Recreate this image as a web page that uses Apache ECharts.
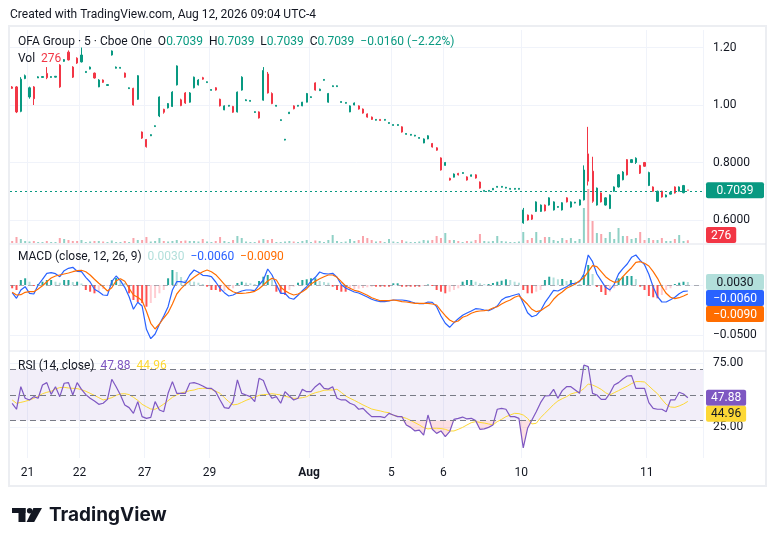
<!DOCTYPE html>
<html lang="en">
<head>
<meta charset="UTF-8">
<title>OFA Group 5m</title>
<style>
html, body { margin: 0; padding: 0; background: #fff; }
#chart { width: 776px; height: 546px; }
</style>
</head>
<body>
<div id="chart"></div>
<script src="https://cdn.jsdelivr.net/npm/echarts@6.0.0/dist/echarts.min.js"></script>
<script>
// day labels on the time axis (slot index where the day starts)
var tickIdx = [4, 16, 31, 46, 69, 88, 100, 118, 147];
var tickText = ['21', '22', '27', '29', 'Aug', '5', '6', '10', '11'];
var slotCount = 160;

// 5 min bars: [open, close, low, high]
var candles = [
  [1.063,1.058,1.056,1.066],[1.063,0.976,0.972,1.066],[0.978,1.090,0.975,1.097],[1.092,1.102,1.090,1.106],[1.028,1.060,1.022,1.064],
  [1.063,1.022,1.000,1.066],[1.094,1.098,1.094,1.100],[1.096,1.099,1.095,1.100],[1.110,1.095,1.090,1.132],[1.096,1.099,1.095,1.100],
  [1.097,1.100,1.096,1.101],[1.139,1.063,1.060,1.142],[1.152,1.158,1.150,1.160],[1.184,1.157,1.155,1.190],[1.132,1.097,1.094,1.135],
  [1.163,1.146,1.143,1.166],[1.150,1.174,1.148,1.200],[1.113,1.117,1.112,1.118],[1.125,1.132,1.124,1.134],[1.111,1.094,1.092,1.113],
  [1.063,1.087,1.062,1.090],[1.087,1.079,1.077,1.089],[1.068,1.071,1.067,1.072],[1.174,1.188,1.172,1.190],[1.128,1.132,1.127,1.134],
  [1.128,1.131,1.127,1.132],[1.111,1.097,1.095,1.113],[1.057,1.060,1.056,1.061],[1.058,1.000,0.998,1.060],[1.020,1.102,1.018,1.104],
  [0.906,0.885,0.882,0.908],[0.880,0.855,0.852,0.882],[0.893,0.897,0.892,0.898],[0.925,0.928,0.924,0.929],[0.962,1.028,0.958,1.030],
  [0.985,0.975,0.970,0.987],[0.990,1.005,0.988,1.007],[0.995,1.045,0.993,1.048],[1.070,1.136,1.068,1.138],[1.018,0.998,0.996,1.022],
  [1.042,1.007,1.004,1.045],[1.010,1.042,1.008,1.045],[1.060,1.097,1.058,1.099],[1.070,1.087,1.068,1.090],[1.095,1.090,1.088,1.098],
  [1.078,1.081,1.077,1.082],[1.051,1.054,1.050,1.055],[1.060,1.052,1.050,1.062],[1.020,0.997,0.995,1.022],[0.983,0.997,0.982,0.999],
  [0.996,0.999,0.995,1.000],[0.995,0.975,0.973,0.997],[0.976,1.045,0.974,1.047],[1.052,1.097,1.050,1.100],[1.015,1.018,1.014,1.020],
  [1.013,1.016,1.012,1.017],[0.974,0.977,0.973,0.978],[0.976,0.955,0.953,0.978],[1.017,1.120,1.015,1.132],[1.108,1.042,1.040,1.115],
  [1.040,1.005,1.003,1.044],[0.996,0.999,0.995,1.000],[0.946,0.949,0.945,0.950],[0.878,0.881,0.877,0.882],[0.970,0.975,0.969,0.976],
  [0.997,0.987,0.985,0.999],[0.996,0.999,0.995,1.000],[0.997,1.010,0.996,1.011],[1.010,1.040,1.009,1.042],[1.026,1.029,1.025,1.030],
  [1.077,1.052,1.050,1.079],[1.050,1.055,1.049,1.057],[1.086,1.089,1.085,1.090],[1.010,1.040,1.008,1.042],[1.064,1.067,1.063,1.068],
  [1.064,1.067,1.063,1.068],[1.009,1.012,1.008,1.013],[1.006,1.009,1.005,1.010],[0.976,0.997,0.975,0.999],[1.000,1.007,0.999,1.009],
  [0.997,0.986,0.984,0.999],[0.986,0.972,0.970,0.988],[0.969,0.958,0.956,0.971],[0.958,0.950,0.948,0.960],[0.947,0.950,0.946,0.951],
  [0.950,0.946,0.945,0.951],[0.947,0.950,0.946,0.951],[0.936,0.939,0.935,0.940],[0.929,0.932,0.928,0.933],[0.929,0.932,0.928,0.933],
  [0.924,0.906,0.904,0.926],[0.898,0.901,0.897,0.902],[0.895,0.898,0.894,0.899],[0.892,0.895,0.891,0.896],[0.884,0.887,0.883,0.888],
  [0.868,0.882,0.867,0.884],[0.882,0.893,0.881,0.895],[0.866,0.854,0.852,0.868],[0.851,0.843,0.841,0.853],[0.816,0.774,0.772,0.818],
  [0.790,0.800,0.789,0.802],[0.745,0.739,0.737,0.747],[0.749,0.760,0.748,0.762],[0.762,0.757,0.755,0.764],[0.762,0.765,0.761,0.766],
  [0.750,0.739,0.737,0.752],[0.752,0.757,0.751,0.758],[0.757,0.746,0.744,0.759],[0.732,0.711,0.709,0.734],[0.700,0.703,0.699,0.704],
  [0.700,0.703,0.699,0.704],[0.705,0.710,0.704,0.711],[0.714,0.717,0.713,0.718],[0.714,0.717,0.713,0.718],[0.711,0.714,0.710,0.715],
  [0.707,0.710,0.706,0.711],[0.707,0.710,0.706,0.711],[0.707,0.710,0.706,0.711],[0.590,0.635,0.587,0.642],[0.617,0.600,0.598,0.619],
  [0.617,0.603,0.600,0.619],[0.630,0.663,0.628,0.665],[0.630,0.652,0.628,0.654],[0.652,0.632,0.630,0.654],[0.652,0.677,0.650,0.679],
  [0.635,0.663,0.633,0.665],[0.644,0.647,0.643,0.648],[0.635,0.660,0.633,0.662],[0.677,0.663,0.661,0.679],[0.645,0.663,0.643,0.665],
  [0.659,0.662,0.658,0.663],[0.652,0.670,0.650,0.672],[0.670,0.774,0.668,0.790],[0.830,0.735,0.720,0.924],[0.770,0.665,0.660,0.820],
  [0.652,0.711,0.650,0.713],[0.694,0.663,0.661,0.696],[0.652,0.677,0.650,0.679],[0.640,0.687,0.638,0.689],[0.700,0.715,0.698,0.717],
  [0.715,0.757,0.713,0.760],[0.740,0.767,0.738,0.770],[0.810,0.757,0.755,0.812],[0.800,0.810,0.798,0.812],[0.800,0.815,0.795,0.818],
  [0.790,0.763,0.760,0.792],[0.800,0.787,0.785,0.802],[0.720,0.765,0.718,0.768],[0.715,0.700,0.698,0.717],[0.665,0.700,0.663,0.702],
  [0.700,0.680,0.678,0.702],[0.680,0.687,0.679,0.689],[0.690,0.696,0.689,0.698],[0.715,0.694,0.692,0.717],[0.700,0.715,0.699,0.717],
  [0.695,0.7199,0.693,0.722],[0.7039,0.7039,0.7039,0.7039]
];

var volumes = [
  200,600,400,200,150,200,100,100,200,100,
  100,500,400,300,200,200,300,100,150,200,
  200,150,100,250,100,100,200,100,500,300,
  300,600,150,200,500,200,150,200,300,200,
  250,200,200,150,400,150,100,200,600,200,
  100,300,700,500,150,100,100,250,400,300,
  400,100,100,150,200,150,100,200,300,100,
  250,200,100,300,800,200,100,150,400,200,
  300,700,500,300,150,200,100,400,150,100,
  300,150,100,100,150,300,250,300,700,500,
  1000,300,300,200,100,200,150,300,900,200,
  150,200,700,200,150,100,100,150,1100,300,
  500,1100,300,600,600,300,200,500,300,500,
  200,400,3500,5400,2200,1000,900,500,1100,400,
  1500,700,700,400,500,1100,300,500,300,300,
  500,200,200,400,800,200,276
];

// MACD (close, 12, 26, 9)
var macdLine = [
  -0.0077,-0.0133,-0.0050,-0.0017,-0.0083,-0.0090,0.0000,0.0057,0.0117,0.0123,
  0.0113,0.0083,0.0143,0.0167,0.0177,0.0137,0.0133,0.0077,0.0030,-0.0043,
  -0.0067,-0.0100,-0.0103,0.0033,0.0090,0.0043,-0.0023,-0.0117,-0.0243,-0.0173,
  -0.0210,-0.0443,-0.0537,-0.0490,-0.0393,-0.0310,-0.0217,-0.0050,0.0033,0.0033,
  0.0023,0.0100,0.0150,0.0127,0.0097,0.0093,0.0083,0.0030,-0.0033,-0.0077,
  -0.0110,-0.0100,-0.0077,-0.0060,-0.0050,-0.0050,-0.0057,0.0000,0.0050,0.0160,
  0.0100,0.0003,-0.0083,-0.0083,-0.0130,-0.0143,-0.0103,-0.0057,-0.0017,0.0040,
  0.0077,0.0130,0.0113,0.0110,0.0117,0.0077,0.0003,-0.0030,-0.0050,-0.0070,
  -0.0080,-0.0100,-0.0120,-0.0143,-0.0157,-0.0167,-0.0167,-0.0160,-0.0150,-0.0150,
  -0.0150,-0.0157,-0.0167,-0.0180,-0.0187,-0.0187,-0.0170,-0.0173,-0.0217,-0.0310,
  -0.0383,-0.0423,-0.0377,-0.0337,-0.0303,-0.0280,-0.0260,-0.0237,-0.0240,-0.0250,
  -0.0257,-0.0237,-0.0210,-0.0150,-0.0123,-0.0113,-0.0100,-0.0087,-0.0183,-0.0277,
  -0.0317,-0.0303,-0.0257,-0.0177,-0.0117,-0.0053,-0.0060,-0.0037,-0.0017,0.0013,
  0.0017,0.0033,0.0110,0.0300,0.0233,0.0110,0.0043,-0.0023,-0.0050,0.0007,
  0.0110,0.0163,0.0210,0.0277,0.0300,0.0247,0.0203,0.0107,-0.0020,-0.0117,
  -0.0170,-0.0170,-0.0147,-0.0123,-0.0087,-0.0063,-0.0060
];
var signalLine = [
  -0.0073,-0.0100,-0.0097,-0.0073,-0.0067,-0.0067,-0.0040,-0.0007,0.0033,0.0070,
  0.0090,0.0100,0.0110,0.0120,0.0133,0.0143,0.0147,0.0133,0.0100,0.0057,
  0.0017,-0.0017,-0.0060,-0.0027,0.0043,0.0063,0.0037,-0.0033,-0.0100,-0.0123,
  -0.0157,-0.0263,-0.0383,-0.0440,-0.0390,-0.0330,-0.0277,-0.0190,-0.0090,-0.0037,
  0.0007,0.0043,0.0077,0.0107,0.0133,0.0150,0.0133,0.0103,0.0057,0.0007,
  -0.0040,-0.0067,-0.0083,-0.0083,-0.0080,-0.0073,-0.0063,-0.0037,0.0000,0.0040,
  0.0067,0.0050,-0.0023,-0.0057,-0.0083,-0.0100,-0.0090,-0.0067,-0.0037,0.0010,
  0.0037,0.0063,0.0083,0.0100,0.0100,0.0077,0.0033,-0.0010,-0.0033,-0.0053,
  -0.0063,-0.0083,-0.0103,-0.0127,-0.0143,-0.0157,-0.0157,-0.0157,-0.0150,-0.0157,
  -0.0167,-0.0170,-0.0177,-0.0183,-0.0183,-0.0183,-0.0183,-0.0190,-0.0200,-0.0257,
  -0.0307,-0.0350,-0.0373,-0.0360,-0.0323,-0.0307,-0.0283,-0.0267,-0.0260,-0.0257,
  -0.0250,-0.0230,-0.0217,-0.0190,-0.0167,-0.0150,-0.0123,-0.0107,-0.0150,-0.0193,
  -0.0243,-0.0267,-0.0257,-0.0227,-0.0200,-0.0143,-0.0100,-0.0070,-0.0033,-0.0013,
  0.0010,0.0043,0.0073,0.0133,0.0193,0.0183,0.0133,0.0083,0.0050,0.0027,
  0.0033,0.0083,0.0130,0.0173,0.0227,0.0233,0.0217,0.0190,0.0133,0.0067,
  -0.0017,-0.0083,-0.0123,-0.0137,-0.0127,-0.0110,-0.0090
];
var macdHist = [
  -0.0033,-0.0050,0.0050,0.0067,0.0033,-0.0010,0.0010,0.0033,0.0050,0.0050,
  0.0033,0.0023,0.0050,0.0050,0.0030,0.0033,0.0015,-0.0050,-0.0067,-0.0083,
  -0.0060,-0.0040,-0.0010,0.0050,0.0070,0.0050,0.0020,-0.0083,-0.0150,-0.0170,
  -0.0180,-0.0217,-0.0180,-0.0130,-0.0083,-0.0050,0.0067,0.0150,0.0130,0.0080,
  0.0050,0.0040,0.0033,0.0023,0.0010,-0.0017,-0.0050,-0.0050,-0.0067,-0.0060,
  -0.0050,-0.0033,0.0020,0.0033,0.0023,0.0017,0.0010,0.0040,0.0083,0.0100,
  0.0057,-0.0067,-0.0083,-0.0100,-0.0050,-0.0017,0.0023,0.0050,0.0057,0.0067,
  0.0067,0.0040,0.0030,0.0023,-0.0017,-0.0050,-0.0067,-0.0067,-0.0050,-0.0043,
  -0.0037,-0.0030,-0.0023,-0.0017,-0.0017,-0.0017,-0.0017,-0.0017,0.0017,0.0017,
  -0.0017,-0.0017,-0.0017,-0.0017,-0.0017,-0.0010,0.0005,-0.0010,-0.0050,-0.0067,
  -0.0083,-0.0067,-0.0050,-0.0033,0.0033,0.0050,0.0050,0.0033,0.0017,0.0010,
  0.0010,0.0020,0.0033,0.0043,0.0057,0.0050,0.0033,0.0023,-0.0050,-0.0083,
  -0.0083,-0.0067,-0.0050,0.0050,0.0083,0.0075,0.0057,0.0060,0.0040,0.0050,
  0.0033,0.0010,0.0100,0.0200,0.0110,-0.0020,-0.0070,-0.0100,-0.0067,-0.0033,
  0.0067,0.0083,0.0090,0.0090,0.0060,-0.0017,-0.0050,-0.0110,-0.0123,-0.0133,
  -0.0100,-0.0050,-0.0033,0.0010,0.0023,0.0033,0.0030
];

// RSI (14, close) and its moving average
var rsiLine = [
  43.5,38.8,56.5,47.4,46.1,48.7,47.4,57.8,59.7,50.5,
  56.5,48.7,59.2,59.7,50.0,59.7,54.4,50.3,47.4,45.3,
  42.7,43.5,46.6,62.3,56.5,50.0,42.2,40.1,35.6,44.8,
  33.0,31.7,32.5,44.8,38.2,36.9,51.3,60.5,51.3,51.3,
  51.3,59.2,59.7,58.6,57.0,55.2,55.2,52.6,46.1,40.1,
  39.5,44.8,61.8,51.3,50.0,48.7,44.8,63.1,61.3,52.6,
  47.4,48.7,43.5,52.6,49.2,46.1,47.4,54.4,52.6,52.6,
  56.5,59.2,55.2,54.6,56.5,47.4,46.1,46.1,43.5,42.2,
  38.8,39.5,36.1,33.0,33.0,33.0,32.2,35.6,34.3,33.0,
  33.0,26.5,24.6,21.8,22.5,18.6,34.3,23.1,19.9,21.8,
  17.3,21.2,30.9,31.7,32.7,31.2,31.7,29.9,23.1,23.4,
  24.6,26.5,38.8,39.5,38.8,33.0,33.0,31.7,8.5,23.9,
  30.4,36.9,44.0,49.2,49.5,54.4,47.4,53.4,56.5,56.5,
  53.9,51.3,73.5,72.2,51.3,50.0,46.6,46.6,51.3,57.8,
  59.7,62.5,64.9,65.2,55.2,55.2,55.2,44.0,39.5,38.8,
  38.8,36.9,46.1,46.1,52.1,50.8,47.88
];
var rsiMa = [
  46.1,43.5,44.2,45.0,46.1,47.4,48.9,51.0,52.1,52.9,
  54.7,55.8,56.0,55.5,55.2,55.0,54.2,52.9,51.3,49.7,
  47.9,46.1,46.9,47.9,49.7,50.8,51.0,50.3,48.2,45.8,
  42.7,40.8,39.0,38.8,40.6,42.9,45.5,48.2,50.0,51.6,
  52.4,53.4,53.9,55.0,55.2,55.2,54.4,52.9,51.3,47.9,
  44.8,42.2,42.7,44.2,45.8,47.1,48.4,49.7,50.3,50.5,
  51.0,50.5,50.0,49.0,48.2,47.4,47.4,47.9,48.7,50.5,
  51.8,52.6,53.7,53.9,53.9,54.5,52.0,49.2,47.4,45.8,
  44.0,42.2,40.6,39.0,38.2,37.5,36.6,36.1,34.0,33.3,
  32.7,31.7,30.1,28.3,26.5,24.4,23.4,23.9,23.9,23.7,
  23.1,21.8,21.8,23.1,24.6,26.5,28.3,29.1,28.5,28.0,
  27.3,26.5,29.1,30.9,33.0,34.3,35.6,35.4,34.3,31.7,
  27.3,27.8,32.2,35.6,39.0,42.5,45.3,47.1,48.7,50.8,
  51.8,52.6,55.0,58.6,57.8,56.3,54.4,51.8,50.0,51.8,
  53.4,55.2,56.9,58.9,60.5,60.5,60.2,57.1,53.9,51.0,
  46.6,42.7,40.6,40.3,41.4,42.9,44.96
];

// axis tick values
var priceTicks = [0.6, 0.8, 1.0, 1.2];
var macdTicks = [-0.05, 0];
var macdLabels = [-0.05];
var rsiTicks = [25, 75];

var UP = '#089981', DOWN = '#f23645', TEXT = '#131722', GRID = '#f0f3fa';
var FONT = 'Roboto, sans-serif';

var cats = [];
for (var s = 0; s < slotCount; s++) cats.push(String(s));

var n = candles.length;
var last = candles[n - 1];
var prevClose = candles[n - 2][1];

function minus(v, d) { return (v < 0 ? '\u2212' : '') + Math.abs(v).toFixed(d); }

var volData = volumes.map(function (v, i) {
  var c = candles[i];
  var up = c[1] > c[0] || (c[1] === c[0] && i > 0 && c[1] >= candles[i - 1][1]);
  return { value: v, itemStyle: { color: up ? 'rgba(8,153,129,0.45)' : 'rgba(242,54,69,0.45)' } };
});

function histColor(i) {
  var v = macdHist[i], p = i > 0 ? macdHist[i - 1] : 0;
  if (v >= 0) return v >= p ? '#26a69a' : '#b2dfdb';
  return v <= p ? '#ff5252' : '#ffcdd2';
}
var histData = macdHist.map(function (v, i) {
  return { value: v, itemStyle: { color: histColor(i) } };
});

// fills outside the 30..70 band
var osBase = rsiLine.map(function (v) { return Math.min(v, 30); });
var osFill = rsiLine.map(function (v) { return 30 - Math.min(v, 30); });
var obBase = rsiLine.map(function () { return 70; });
var obFill = rsiLine.map(function (v) { return Math.max(v, 70) - 70; });

// value tags on the right scale
var measure = document.createElement('canvas').getContext('2d');
measure.font = '12px ' + FONT;
function tagSeries(gridIdx, yIdx, tags) {
  return {
    type: 'custom', xAxisIndex: gridIdx, yAxisIndex: yIdx, clip: false, silent: true, z: 30,
    data: tags.map(function (t) { return [0, t.value]; }),
    renderItem: function (params, api) {
      var cs = params.coordSys, h = 16;
      var ys = tags.map(function (t) { return api.coord([0, t.value])[1]; });
      var order = ys.map(function (y, k) { return k; }).sort(function (a, b) { return ys[a] - ys[b]; });
      var prev = -1e9;
      order.forEach(function (k) { ys[k] = Math.max(ys[k], prev + h); prev = ys[k]; });
      var k = params.dataIndex, t = tags[k];
      var y = Math.min(ys[k], cs.y + cs.height - h / 2);
      var x = cs.x + cs.width + 3;
      var w = t.wide ? 58 : measure.measureText(t.text).width + 10;
      return {
        type: 'group',
        children: [
          { type: 'rect', shape: { x: x, y: y - h / 2, width: w, height: h, r: 2 }, style: { fill: t.bg } },
          { type: 'text', style: { x: x + w / 2, y: y + 0.5, text: t.text, fill: t.fg, font: '12px ' + FONT, align: 'center', verticalAlign: 'middle' } }
        ]
      };
    }
  };
}

function xAxisFor(g) {
  return {
    type: 'category', gridIndex: g, data: cats, boundaryGap: true,
    axisLine: { show: false }, axisTick: { show: false },
    axisPointer: { show: false },
    splitLine: {
      show: true, lineStyle: { color: GRID, width: 1 },
      interval: function (idx) { return tickIdx.indexOf(idx) >= 0; }
    },
    axisLabel: g === 2 ? {
      show: true, color: TEXT, fontSize: 12, fontFamily: FONT, margin: 9,
      padding: [0, 4, 0, 0],
      interval: function (idx) { return tickIdx.indexOf(idx) >= 0; },
      formatter: function (v, idx) {
        var t = tickText[tickIdx.indexOf(idx)] || '';
        return t === 'Aug' ? '{b|Aug}' : t;
      },
      rich: { b: { fontWeight: 'bold', fontSize: 12, fontFamily: FONT, color: TEXT } }
    } : { show: false }
  };
}

function yLabel(fmt, values) {
  return { show: true, color: TEXT, fontSize: 12, fontFamily: FONT, margin: 10, customValues: values, formatter: fmt };
}

var hl = macdHist[n - 1];
var headerText =
  '{t|OFA Group \u00b7 5 \u00b7 Cboe One}  ' +
  '{t|O}{g|' + last[0].toFixed(4) + '}  {t|H}{g|' + last[3].toFixed(4) + '}  ' +
  '{t|L}{g|' + last[2].toFixed(4) + '}  {t|C}{g|' + last[1].toFixed(4) + '}  ' +
  '{g|' + minus(last[1] - prevClose, 4) + ' (' + minus((last[1] - prevClose) / prevClose * 100, 2) + '%)}';

function txt(x, y, text, rich) {
  return {
    type: 'text', x: x, y: y, z: 100, silent: true,
    style: { text: text, fill: TEXT, font: '12px ' + FONT, verticalAlign: 'middle', rich: rich || {} }
  };
}
function seg(color) { return { fill: color, font: '12px ' + FONT }; }

var option = {
  animation: false,
  backgroundColor: '#ffffff',
  grid: [
    { left: 10, right: 73, top: 30, height: 213 },
    { left: 10, right: 73, top: 245, height: 105 },
    { left: 10, right: 73, top: 352, height: 106 }
  ],
  xAxis: [xAxisFor(0), xAxisFor(1), xAxisFor(2)],
  yAxis: [
    {
      type: 'value', gridIndex: 0, position: 'right', min: 0.52, max: 1.261, scale: true,
      axisLine: { show: false }, axisTick: { show: false, customValues: priceTicks },
      splitLine: { show: true, lineStyle: { color: GRID } },
      axisLabel: yLabel(function (v) { return v >= 1 ? v.toFixed(2) : v.toFixed(4); }, priceTicks)
    },
    {
      type: 'value', gridIndex: 0, min: 0, max: 21300, show: false, splitLine: { show: false }
    },
    {
      type: 'value', gridIndex: 1, position: 'right', min: -0.065, max: 0.040,
      axisLine: { show: false }, axisTick: { show: false, customValues: macdTicks },
      splitLine: { show: true, lineStyle: { color: GRID } },
      axisLabel: yLabel(function (v) { return minus(v, 4); }, macdLabels)
    },
    {
      type: 'value', gridIndex: 2, position: 'right', min: 0.6, max: 83.7,
      axisLine: { show: false }, axisTick: { show: false, customValues: rsiTicks },
      splitLine: { show: true, lineStyle: { color: GRID } },
      axisLabel: yLabel(function (v) { return v.toFixed(2); }, rsiTicks)
    }
  ],
  series: [
    {
      type: 'bar', name: 'Vol', xAxisIndex: 0, yAxisIndex: 1, data: volData,
      barWidth: 2, z: 1, silent: true
    },
    {
      type: 'candlestick', name: 'OFA', xAxisIndex: 0, yAxisIndex: 0, data: candles,
      barWidth: 1.6, z: 3, silent: true,
      itemStyle: { color: UP, color0: DOWN, borderColor: UP, borderColor0: DOWN, borderWidth: 1 },
      markLine: {
        silent: true, symbol: 'none', label: { show: false },
        lineStyle: { color: UP, type: [2, 3], width: 1.2 },
        data: [{ yAxis: last[1] }]
      }
    },
    {
      type: 'bar', name: 'Histogram', xAxisIndex: 1, yAxisIndex: 2, data: histData,
      barWidth: 2, z: 2, silent: true,
      markLine: {
        silent: true, symbol: 'none', label: { show: false },
        lineStyle: { color: 'rgba(120,123,134,0.6)', type: [5, 4], width: 1 },
        data: [{ yAxis: 0 }]
      }
    },
    {
      type: 'line', name: 'MACD', xAxisIndex: 1, yAxisIndex: 2, data: macdLine,
      showSymbol: false, symbol: 'none', z: 4, silent: true,
      lineStyle: { color: '#2962ff', width: 1.2 }
    },
    {
      type: 'line', name: 'Signal', xAxisIndex: 1, yAxisIndex: 2, data: signalLine,
      showSymbol: false, symbol: 'none', z: 4, silent: true,
      lineStyle: { color: '#ff6d00', width: 1.2 }
    },
    {
      type: 'line', name: 'osBase', xAxisIndex: 2, yAxisIndex: 3, data: osBase, stack: 'os',
      symbol: 'none', silent: true, lineStyle: { opacity: 0 }, z: 2
    },
    {
      type: 'line', name: 'osFill', xAxisIndex: 2, yAxisIndex: 3, data: osFill, stack: 'os',
      symbol: 'none', silent: true, lineStyle: { opacity: 0 }, z: 2,
      areaStyle: { color: 'rgba(242,54,69,0.22)' }
    },
    {
      type: 'line', name: 'obBase', xAxisIndex: 2, yAxisIndex: 3, data: obBase, stack: 'ob',
      symbol: 'none', silent: true, lineStyle: { opacity: 0 }, z: 2
    },
    {
      type: 'line', name: 'obFill', xAxisIndex: 2, yAxisIndex: 3, data: obFill, stack: 'ob',
      symbol: 'none', silent: true, lineStyle: { opacity: 0 }, z: 2,
      areaStyle: { color: 'rgba(8,153,129,0.18)' }
    },
    {
      type: 'line', name: 'RSI', xAxisIndex: 2, yAxisIndex: 3, data: rsiLine,
      showSymbol: false, symbol: 'none', z: 4, silent: true,
      lineStyle: { color: '#7e57c2', width: 1.2 },
      markArea: {
        silent: true, itemStyle: { color: 'rgba(126,87,194,0.1)' },
        data: [[{ yAxis: 30 }, { yAxis: 70 }]]
      },
      markLine: {
        silent: true, symbol: 'none', label: { show: false },
        lineStyle: { color: '#787b86', type: [6, 4], width: 1 },
        data: [{ yAxis: 70 }, { yAxis: 50 }, { yAxis: 30 }]
      }
    },
    {
      type: 'line', name: 'RSI MA', xAxisIndex: 2, yAxisIndex: 3, data: rsiMa,
      showSymbol: false, symbol: 'none', z: 3, silent: true,
      lineStyle: { color: '#fdd835', width: 1 }
    },
    tagSeries(0, 0, [{ value: last[1], text: last[1].toFixed(4), bg: UP, fg: '#fff', wide: true }]),
    tagSeries(0, 1, [{ value: volumes[n - 1], text: String(volumes[n - 1]), bg: DOWN, fg: '#fff' }]),
    tagSeries(1, 2, [
      { value: hl, text: minus(hl, 4), bg: histColor(n - 1), fg: TEXT, wide: true },
      { value: macdLine[n - 1], text: minus(macdLine[n - 1], 4), bg: '#2962ff', fg: '#fff', wide: true },
      { value: signalLine[n - 1], text: minus(signalLine[n - 1], 4), bg: '#ff6d00', fg: '#fff', wide: true }
    ]),
    tagSeries(2, 3, [
      { value: rsiLine[n - 1], text: rsiLine[n - 1].toFixed(2), bg: '#7e57c2', fg: '#fff' },
      { value: rsiMa[n - 1], text: rsiMa[n - 1].toFixed(2), bg: '#fdd835', fg: TEXT }
    ])
  ],
  graphic: [
    { type: 'rect', silent: true, z: 90, shape: { x: 9, y: 26, width: 757, height: 460 }, style: { fill: 'none', stroke: '#eceef2', lineWidth: 2 } },
    { type: 'line', silent: true, z: 90, shape: { x1: 9, y1: 244, x2: 766, y2: 244 }, style: { stroke: '#e0e3eb', lineWidth: 1 } },
    { type: 'line', silent: true, z: 90, shape: { x1: 9, y1: 351, x2: 766, y2: 351 }, style: { stroke: '#e0e3eb', lineWidth: 1 } },
    txt(10, 15, 'Created with TradingView.com, Aug 12, 2026 09:04 UTC-4'),
    txt(18, 42, headerText, { t: seg(TEXT), g: seg(UP) }),
    txt(18, 59, '{t|Vol}  {r|' + volumes[n - 1] + '}', { t: seg(TEXT), r: seg(DOWN) }),
    txt(18, 257, '{t|MACD (close, 12, 26, 9)}  {h|' + minus(hl, 4) + '}  {m|' + minus(macdLine[n - 1], 4) + '}  {s|' + minus(signalLine[n - 1], 4) + '}',
      { t: seg(TEXT), h: seg(histColor(n - 1)), m: seg('#2962ff'), s: seg('#ff6d00') }),
    txt(18, 366, '{t|RSI (14, close)}  {r|' + rsiLine[n - 1].toFixed(2) + '}  {m|' + rsiMa[n - 1].toFixed(2) + '}',
      { t: seg(TEXT), r: seg('#7e57c2'), m: seg('#fdd835') }),
    {
      type: 'group', silent: true, z: 100,
      children: [
        { type: 'rect', shape: { x: 12, y: 508, width: 13.5, height: 5 }, style: { fill: TEXT } },
        { type: 'rect', shape: { x: 18.5, y: 508, width: 7, height: 14 }, style: { fill: TEXT } },
        { type: 'circle', shape: { cx: 29.6, cy: 510.7, r: 2.7 }, style: { fill: TEXT } },
        { type: 'polygon', shape: { points: [[33.4, 508], [42, 508], [34.2, 522], [26.6, 522]] }, style: { fill: TEXT } },
        { type: 'text', x: 49, y: 515, style: { text: 'TradingView', fill: TEXT, font: 'bold 19px Inter, sans-serif', verticalAlign: 'middle' } }
      ]
    }
  ]
};

var chart = echarts.init(document.getElementById('chart'), null, { renderer: 'canvas' });
chart.setOption(option);
</script>
</body>
</html>
